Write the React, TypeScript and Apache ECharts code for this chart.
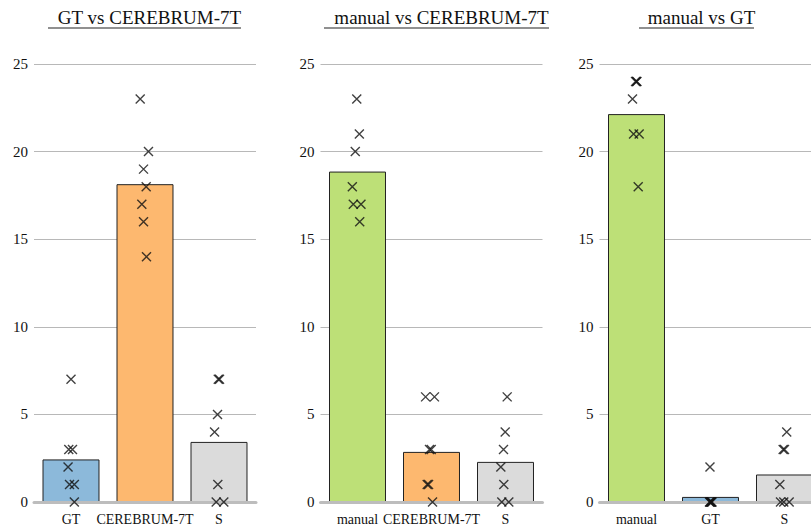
import React, { useEffect, useRef } from "react";
import * as echarts from "echarts";

// ---- Data ----
const titles = ["GT vs CEREBRUM-7T", "manual vs CEREBRUM-7T", "manual vs GT"];

const p1Categories = ["GT", "CEREBRUM-7T", "S"];
const p1Means = [2.43, 18.14, 3.43];
const p1Points = [
  [7, 3, 3, 2, 1, 1, 0],
  [23, 20, 19, 18, 17, 16, 14],
  [7, 7, 5, 4, 1, 0, 0],
];
const p1Jitter = [
  [0, -0.03, 0.02, -0.04, -0.02, 0.045, 0.045],
  [-0.065, 0.047, -0.02, 0.016, -0.043, -0.02, 0.02],
  [-0.01, 0.007, -0.02, -0.06, -0.016, -0.038, 0.065],
];

const p2Categories = ["manual", "CEREBRUM-7T", "S"];
const p2Means = [18.86, 2.86, 2.29];
const p2Points = [
  [23, 21, 20, 18, 17, 17, 16],
  [6, 6, 3, 3, 1, 1, 0],
  [6, 4, 3, 2, 1, 0, 0],
];
const p2Jitter = [
  [-0.01, 0.025, -0.03, -0.07, -0.057, 0.047, 0.03],
  [-0.08, 0.04, -0.027, -0.004, -0.058, -0.04, 0.014],
  [0.023, -0.004, -0.027, -0.063, -0.023, -0.05, 0.045],
];

const p3Categories = ["manual", "GT", "S"];
const p3Means = [22.14, 0.29, 1.57];
const p3Points = [
  [24, 24, 24, 23, 21, 21, 18],
  [2, 0, 0, 0, 0, 0, 0],
  [4, 3, 3, 1, 0, 0, 0],
];
const p3Jitter = [
  [-0.013, 0, 0.005, -0.054, -0.04, 0.036, 0.023],
  [-0.007, -0.014, 0, 0.007, 0.014, 0.02, -0.007],
  [0.03, -0.018, 0, -0.063, -0.054, -0.01, 0.063],
];

const yTicks = [0, 5, 10, 15, 20, 25];

const colorOf: Record<string, string> = {
  GT: "#8cb9da",
  "CEREBRUM-7T": "#fdb86f",
  manual: "#bde077",
  S: "#dbdbdb",
};

const panels = [
  { cats: p1Categories, means: p1Means, points: p1Points, jitter: p1Jitter },
  { cats: p2Categories, means: p2Means, points: p2Points, jitter: p2Jitter },
  { cats: p3Categories, means: p3Means, points: p3Points, jitter: p3Jitter },
];

// ---- Layout ----
const CANVAS_W = 840; // wider than the viewport: the last panel is cut off
const gridLefts = [34, 320.5, 599.5];
const gridWidth = 222;
const gridTop = 64;
const gridHeight = 438;
const titleCenters = [144.5, 436.5, 696.5];
const underlines = [
  [48, 241],
  [324, 549],
  [639, 754],
];

const FONT = "'Liberation Serif', 'Times New Roman', serif";
const crossPath = "path://M0,0L10,10M10,0L0,10";

export default function App() {
  const ref = useRef<HTMLDivElement>(null);

  useEffect(() => {
    if (!ref.current) return;
    const chart = echarts.init(ref.current, undefined, { renderer: "svg" });

    const grid: any[] = [];
    const xAxis: any[] = [];
    const yAxis: any[] = [];
    const series: any[] = [];
    const title: any[] = [];
    const graphic: any[] = [];

    panels.forEach((p, i) => {
      grid.push({
        left: gridLefts[i],
        top: gridTop,
        width: gridWidth,
        height: gridHeight,
        containLabel: false,
      });
      xAxis.push({
        type: "category",
        gridIndex: i,
        data: p.cats,
        axisLine: { show: true, lineStyle: { color: "#bdbdbd", width: 3 } },
        axisTick: { show: false },
        axisLabel: {
          color: "#111",
          fontFamily: FONT,
          fontSize: 14,
          margin: 10,
          interval: 0,
        },
        z: 5,
      });
      xAxis.push({
        type: "value",
        gridIndex: i,
        min: -0.5,
        max: 2.5,
        show: false,
      });
      yAxis.push({
        type: "value",
        gridIndex: i,
        min: yTicks[0],
        max: yTicks[yTicks.length - 1],
        interval: 5,
        axisLine: { show: false },
        axisTick: { show: false },
        axisLabel: {
          color: "#111",
          fontFamily: FONT,
          fontSize: 15,
          margin: 6,
        },
        splitLine: { show: true, lineStyle: { color: "#b8b8b8", width: 1 } },
      });

      series.push({
        type: "bar",
        xAxisIndex: i * 2,
        yAxisIndex: i,
        barCategoryGap: "23%",
        data: p.means.map((v, k) => ({
          value: v,
          itemStyle: {
            color: colorOf[p.cats[k]],
            borderColor: "#222",
            borderWidth: 1,
          },
        })),
        z: 2,
      });

      const pts: number[][] = [];
      p.points.forEach((arr, k) => {
        arr.forEach((v, j) => {
          pts.push([k + p.jitter[k][j], v]);
        });
      });
      series.push({
        type: "scatter",
        xAxisIndex: i * 2 + 1,
        yAxisIndex: i,
        data: pts,
        symbol: crossPath,
        symbolSize: 9,
        itemStyle: {
          color: "none",
          borderColor: "#111",
          borderWidth: 1.4,
        },
        z: 6,
      });

      title.push({
        text: titles[i],
        left: titleCenters[i],
        top: 3,
        textAlign: "center",
        textStyle: {
          fontFamily: FONT,
          fontSize: 19,
          fontWeight: "normal",
          color: "#111",
        },
      });
      graphic.push({
        type: "line",
        shape: {
          x1: underlines[i][0],
          y1: 28,
          x2: underlines[i][1],
          y2: 28,
        },
        style: { stroke: "#222", lineWidth: 1.2 },
      });
    });

    chart.setOption({
      animation: false,
      backgroundColor: "#ffffff",
      title,
      grid,
      xAxis,
      yAxis,
      series,
      graphic,
    });

    return () => chart.dispose();
  }, []);

  return (
    <div
      style={{
        position: "fixed",
        left: 0,
        top: 0,
        width: 811,
        height: 531,
        overflow: "hidden",
        background: "#fff",
      }}
    >
      <div ref={ref} style={{ width: CANVAS_W, height: 531 }} />
    </div>
  );
}
